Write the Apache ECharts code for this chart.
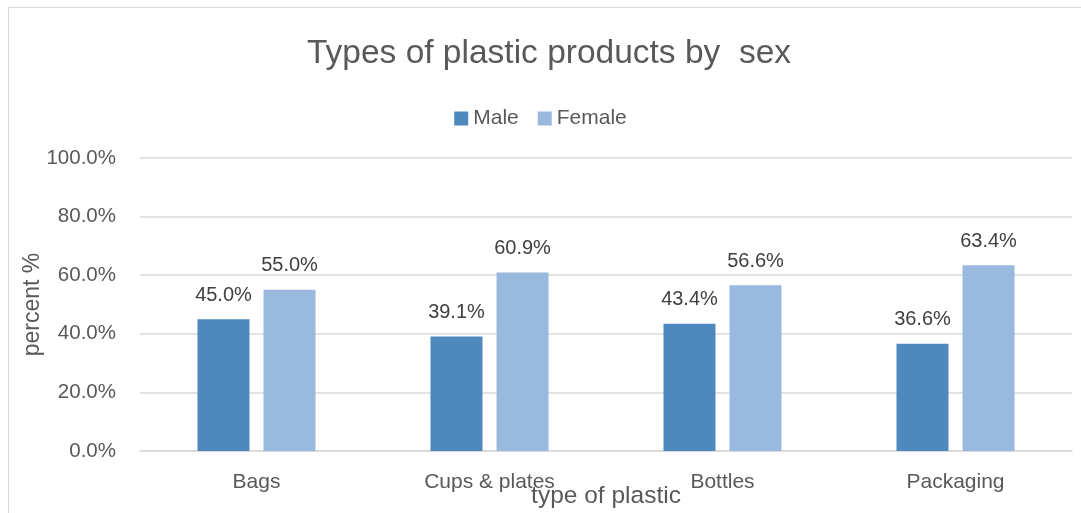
<!DOCTYPE html>
<html>
<head>
<meta charset="utf-8">
<script src="https://cdn.jsdelivr.net/npm/echarts@6/dist/echarts.min.js"></script>
<style>
html,body{margin:0;padding:0;background:#fff;}
#chart{width:1081px;height:513px;}
</style>
</head>
<body>
<div id="chart"></div>
<script>
const categories = ['Bags', 'Cups & plates', 'Bottles', 'Packaging'];
const maleValues = [45.0, 39.1, 43.4, 36.6];
const femaleValues = [55.0, 60.9, 56.6, 63.4];
const seriesNames = ['Male', 'Female'];
const titleText = 'Types of plastic products by  sex';
const xAxisName = 'type of plastic';
const yAxisName = 'percent %';

const FONT = "'Liberation Sans', Arial, sans-serif";
const TEXT = '#595959';

const chart = echarts.init(document.getElementById('chart'), null, {renderer: 'canvas'});
const labelCfg = {
  show: true, position: 'top', distance: 14,
  formatter: p => p.value.toFixed(1) + '%',
  color: '#404040', fontSize: 20, fontFamily: FONT
};
chart.setOption({
  animation: false,
  backgroundColor: '#fff',
  textStyle: {fontFamily: FONT},
  graphic: [{
    type: 'rect', silent: true, z: -1,
    shape: {x: 8.5, y: 7.5, width: 1100, height: 600},
    style: {fill: 'none', stroke: '#d9d9d9', lineWidth: 1}
  }],
  title: {
    text: titleText, left: 544, top: 32, textAlign: 'center',
    textStyle: {fontSize: 33.5, fontWeight: 'normal', color: TEXT, fontFamily: FONT}
  },
  legend: {
    data: seriesNames, left: 'center', top: 103,
    itemWidth: 14, itemHeight: 14, itemGap: 19,
    icon: 'rect',
    textStyle: {fontSize: 21, color: TEXT, fontFamily: FONT}
  },
  grid: {left: 140, right: 9, top: 158, bottom: 62, containLabel: false, outerBoundsMode: 'none'},
  xAxis: {
    type: 'category', data: categories,
    name: xAxisName, nameLocation: 'middle', nameGap: 33, nameMoveOverlap: false,
    nameTextStyle: {fontSize: 24.5, color: TEXT, fontFamily: FONT},
    axisLine: {lineStyle: {color: '#d9d9d9', width: 1.5}},
    axisTick: {show: false},
    axisLabel: {fontSize: 21, color: TEXT, margin: 21, fontFamily: FONT}
  },
  yAxis: {
    type: 'value', min: 0, max: 100, interval: 20,
    name: yAxisName, nameLocation: 'middle', nameGap: 96, nameRotate: 90, nameMoveOverlap: false,
    nameTextStyle: {fontSize: 23, color: TEXT, fontFamily: FONT},
    axisLine: {show: false}, axisTick: {show: false},
    axisLabel: {fontSize: 20.5, color: TEXT, margin: 24, fontFamily: FONT,
      formatter: v => v.toFixed(1) + '%'},
    splitLine: {lineStyle: {color: '#d9d9d9', width: 1.5}}
  },
  series: [
    {name: seriesNames[0], type: 'bar', data: maleValues, barWidth: 52, barGap: '27%',
     itemStyle: {color: '#4f88bd'}, label: labelCfg},
    {name: seriesNames[1], type: 'bar', data: femaleValues, barWidth: 52,
     itemStyle: {color: '#99b9df'}, label: labelCfg}
  ]
});
</script>
</body>
</html>
